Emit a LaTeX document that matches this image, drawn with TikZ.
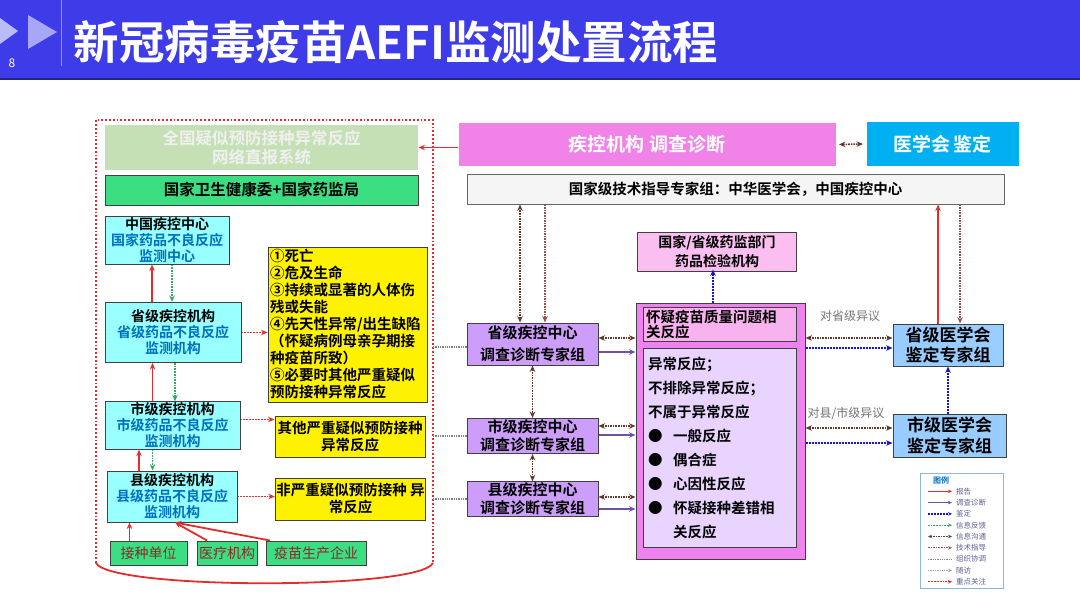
\documentclass[tikz,border=0pt]{standalone}
\usepackage{fontspec}
\setmainfont{Noto Sans CJK SC}[BoldFont={Noto Sans CJK SC Bold}]
\usetikzlibrary{calc,arrows.meta}

\definecolor{headblue}{RGB}{62,60,232}
\definecolor{headdark}{RGB}{38,38,130}
\definecolor{netgreen}{RGB}{197,224,180}
\definecolor{midgreen}{RGB}{60,222,130}
\definecolor{cyanfill}{RGB}{153,255,255}
\definecolor{cyantext}{RGB}{0,112,192}
\definecolor{diagpink}{RGB}{240,130,232}
\definecolor{medblue}{RGB}{0,176,240}
\definecolor{nmpapink}{RGB}{250,190,240}
\definecolor{purplefill}{RGB}{204,158,250}
\definecolor{bigpink}{RGB}{238,130,238}
\definecolor{innerpink}{RGB}{248,178,238}
\definecolor{lavender}{RGB}{232,212,255}
\definecolor{lightblue}{RGB}{153,204,255}
\definecolor{redline}{RGB}{225,45,45}
\definecolor{purpleline}{RGB}{110,80,165}
\definecolor{blueline}{RGB}{20,20,210}
\definecolor{greenline}{RGB}{50,170,100}
\definecolor{brownline}{RGB}{100,55,45}
\definecolor{guidebrown}{RGB}{150,80,80}
\definecolor{sitetext}{RGB}{140,40,40}
\definecolor{legtext}{RGB}{95,95,150}

\newcommand{\fsz}[2]{\fontsize{#1}{#2}\selectfont}

\begin{document}
\begin{tikzpicture}[>={Stealth[length=6.5pt,width=5.5pt]}, x=1pt, y=-1pt,
    box/.style={draw=black!75, line width=1pt, inner sep=1pt, align=center, font=\bfseries},
    cdcbox/.style={box, fill=cyanfill, font=\bfseries\fsz{14}{16}},
    ylwbox/.style={box, fill=yellow, font=\bfseries\fsz{14.5}{17}},
    sitebox/.style={box, fill=midgreen, font=\fsz{14}{16}, text=sitetext, minimum height=24},
    expbox/.style={box, fill=purplefill, font=\bfseries\fsz{15}{18}, minimum width=131},
    medbox/.style={box, fill=lightblue, font=\bfseries\fsz{17}{20.5}},
    report/.style={draw=redline, line width=1.8pt, ->},
    survey/.style={draw=purpleline, line width=1.8pt, ->},
    ident/.style={draw=blueline, line width=2pt, densely dotted, ->},
    feedback/.style={draw=greenline, line width=1.7pt, densely dotted, ->},
    commu/.style={draw=brownline, line width=1.6pt, densely dotted, <->},
    guide/.style={draw=guidebrown, line width=1.6pt, densely dotted, ->},
    orgline/.style={draw=gray, line width=1.3pt, densely dotted},
    visit/.style={draw=gray!70, line width=1.3pt, densely dotted, ->},
    focus/.style={draw=redline, line width=1.9pt, densely dotted, ->}]
    \useasboundingbox (0,0) rectangle (1080,597);

    % Header band
    \fill[headblue] (0,0) rectangle (1080,78);
    \fill[headdark] (0,78) rectangle (1080,80);
    \fill[headblue!35!white] (0,18) -- (18,31) -- (0,44) -- cycle;
    \fill[headblue!45!white] (28,15) -- (57,32) -- (28,49) -- cycle;
    \draw[headblue!55!white, line width=0.8pt] (61,0) -- (61,66);
    \node[text=white, font=\fsz{12}{12}] (page) at (12,63) {8};
    \node[anchor=west, text=white, font=\bfseries\fsz{45.5}{46}] (title) at (70,42) {新冠病毒疫苗AEFI监测处置流程};

    % Left frame (reporting system)
    \coordinate (frame) at (433,120);
    \draw[redline, line width=1.8pt, dotted] (96,563) -- (96,120) -- (frame) -- (433,563);
    \draw[redline, line width=1.8pt] (96,563) .. controls (110,590) and (420,590) .. (433,563);

    \node[box, draw=none, fill=netgreen, text=white!94!black, font=\bfseries\fsz{16.5}{18.5},
        minimum width=313, minimum height=45] (netsys) at (261.5,147.5) {全国疑似预防接种异常反应\\网络直报系统};
    \node[box, fill=midgreen, font=\bfseries\fsz{15.5}{17}, minimum width=313, minimum height=30] (nhc) at (261.5,190) {国家卫生健康委+国家药监局};

    \node[cdcbox, minimum width=124, minimum height=45] (cdc) at (167,240.5)
        {中国疾控中心\\{\color{cyantext}国家药品不良反应}\\{\color{cyantext}监测中心}};
    \node[cdcbox, minimum width=136, minimum height=60] (provcdc) at (173,332.5)
        {省级疾控机构\\{\color{cyantext}省级药品不良反应}\\{\color{cyantext}监测机构}};
    \node[cdcbox, minimum width=135, minimum height=45] (citycdc) at (172.5,425.5)
        {市级疾控机构\\{\color{cyantext}市级药品不良反应}\\{\color{cyantext}监测机构}};
    \node[cdcbox, minimum width=130, minimum height=51] (countycdc) at (172,496.5)
        {县级疾控机构\\{\color{cyantext}县级药品不良反应}\\{\color{cyantext}监测机构}};

    \node[sitebox, minimum width=77] (site) at (148.5,553) {接种单位};
    \node[sitebox, minimum width=60] (hosp) at (227,553) {医疗机构};
    \node[sitebox, minimum width=100] (maker) at (316,553) {疫苗生产企业};

    \node[ylwbox, align=left, text width=155, minimum height=155, inner sep=2pt] (ylw1) at (347.5,324.5)
        {①死亡\\②危及生命\\③持续或显著的人体伤\\残或失能\\④先天性异常/出生缺陷\\（怀疑病例母亲孕期接\\种疫苗所致）\\⑤必要时其他严重疑似\\预防接种异常反应};
    \node[ylwbox, minimum width=150, minimum height=41] (ylw2) at (350,436.5) {其他严重疑似预防接种\\异常反应};
    \node[ylwbox, minimum width=149, minimum height=42] (ylw3) at (350.5,499) {非严重疑似预防接种 异\\常反应};

    % Reporting up, feedback down
    \draw[report] ([xshift=-19pt]site.north) -- ([xshift=-19pt]site.north |- countycdc.south);
    \coordinate (countyin) at ([xshift=3pt]countycdc.south);
    \draw[report] ([xshift=-20pt]hosp.north) -- (countyin);
    \draw[report] ([xshift=-46pt]maker.north) -- (countyin);
    \draw[report] ([xshift=-33pt]countycdc.north) -- ([xshift=-33pt]countycdc.north |- citycdc.south);
    \draw[feedback] ([xshift=-20pt]citycdc.south) -- ([xshift=-20pt]citycdc.south |- countycdc.north);
    \draw[report] ([xshift=-20pt]citycdc.north) -- ([xshift=-20pt]citycdc.north |- provcdc.south);
    \draw[feedback] ([xshift=2pt]provcdc.south) -- ([xshift=2pt]provcdc.south |- citycdc.north);
    \draw[report] ([xshift=-15pt]cdc.south |- provcdc.north) -- ([xshift=-15pt]cdc.south);
    \draw[feedback] ([xshift=5pt]cdc.south) -- ([xshift=5pt]cdc.south |- provcdc.north);

    % Key attention
    \draw[focus] (provcdc.east) -- (provcdc.east -| ylw1.west);
    \draw[focus] ([yshift=6pt]citycdc.east) -- ([yshift=6pt]citycdc.east -| ylw2.west);
    \draw[focus] (countycdc.east) -- (countycdc.east -| ylw3.west);

    % Right part: investigation and diagnosis
    \node[box, draw=none, fill=diagpink, text=white, font=\bfseries\fsz{19}{21}, minimum width=377, minimum height=43] (diag) at (647,144.5) {疾控机构 调查诊断};
    \node[box, draw=none, fill=medblue, text=white, font=\bfseries\fsz{19}{21}, minimum width=152, minimum height=44] (medassoc) at (942.5,144) {医学会\,鉴定};
    \node[box, draw=black!60, fill=black!4, font=\bfseries\fsz{14.5}{16}, minimum width=537, minimum height=30] (expert) at (735.5,189) {国家级技术指导专家组：中华医学会，中国疾控中心};
    \node[box, fill=nmpapink, font=\bfseries\fsz{14}{19}, minimum width=159, minimum height=39] (nmpa) at (717,251.5) {国家/省级药监部门\\药品检验机构};

    \draw[report] (diag.west |- netsys.east) -- (netsys.east);
    \draw[commu] ([xshift=3pt]diag.east) -- ([xshift=-3pt]medassoc.west);

    \node[expbox, font=\bfseries\fsz{15}{21.5}, minimum height=42] (provexp) at (532.5,344) {省级疾控中心\\调查诊断专家组};
    \node[expbox, minimum height=35] (cityexp) at (532.5,436) {市级疾控中心\\调查诊断专家组};
    \node[expbox, minimum height=34] (countyexp) at (532.5,499) {县级疾控中心\\调查诊断专家组};

    \node[box, fill=bigpink, minimum width=169, minimum height=256] (bigbox) at (720.5,431) {};
    \node[box, fill=innerpink, align=left, text width=147, inner sep=3pt, font=\bfseries\fsz{14.5}{12.5},
        minimum height=33] (quality) at (719.5,324.5) {怀疑疫苗质量问题相\\关反应};
    \node[box, fill=lavender, align=left, text width=143, inner xsep=5pt, font=\bfseries\fsz{14.5}{24},
        minimum height=199] (abnormal) at (719.5,447.5)
        {异常反应；\\不排除异常反应；\\不属于异常反应\\
         \makebox[25pt][l]{●}一般反应\\\makebox[25pt][l]{●}偶合症\\\makebox[25pt][l]{●}心因性反应\\
         \makebox[25pt][l]{●}怀疑接种差错相\\\hspace*{25pt}关反应};

    \node[medbox, minimum width=110, minimum height=42] (provmed) at (948,345) {省级医学会\\鉴定专家组};
    \node[medbox, minimum width=113, minimum height=43] (citymed) at (949.5,435.5) {市级医学会\\鉴定专家组};

    \node[text=black!55, font=\fsz{12}{12}] (provobj) at (850,316) {对省级异议};
    \node[text=black!55, font=\fsz{12}{12}] (cityobj) at (846,413) {对县/市级异议};

    % Technical guidance and communication
    \coordinate (exl) at ([xshift=-12.5pt]provexp.north);
    \coordinate (exr) at ([xshift=12.5pt]provexp.north);
    \draw[commu] (exl) -- (exl |- expert.south);
    \draw[guide] (exr |- expert.south) -- (exr);
    \coordinate (mdl) at ([xshift=-10pt]provmed.north);
    \coordinate (mdr) at ([xshift=12pt]provmed.north);
    \draw[report] (mdl) -- (mdl |- expert.south);
    \draw[guide] (mdr |- expert.south) -- (mdr);
    \draw[ident] ([xshift=-4pt]nmpa.south |- bigbox.north) -- ([xshift=-4pt,yshift=2pt]nmpa.south);

    % Organisation lines from the reporting system
    \draw[orgline] ([yshift=-3pt]provexp.west) -- ([yshift=-3pt]provexp.west -| frame);
    \draw[orgline] (cityexp.west) -- (cityexp.west -| frame);
    \draw[orgline] (countyexp.west) -- (countyexp.west -| frame);

    \draw[commu] (provexp.south) -- (cityexp.north);
    \draw[commu] (cityexp.south) -- (countyexp.north);

    % Expert groups to diagnosis box
    \draw[survey] ([yshift=-8pt]provexp.east) -- ([yshift=-8pt]provexp.east -| bigbox.west);
    \draw[commu] ([yshift=6pt]provexp.east) -- ([yshift=6pt]provexp.east -| bigbox.west);
    \draw[survey] ([yshift=1pt]cityexp.east) -- ([yshift=1pt]cityexp.east -| bigbox.west);
    \draw[commu] ([yshift=10pt]cityexp.east) -- ([yshift=10pt]cityexp.east -| bigbox.west);
    \draw[survey] ([yshift=-10pt]countyexp.east) -- ([yshift=-10pt]countyexp.east -| bigbox.west);
    \draw[commu] ([yshift=2pt]countyexp.east) -- ([yshift=2pt]countyexp.east -| bigbox.west);

    % Objections to medical association
    \draw[ident] ([yshift=-3pt]provmed.west -| bigbox.east) -- ([yshift=-3pt]provmed.west);
    \draw[commu] ([yshift=7pt]provmed.west -| bigbox.east) -- ([yshift=7pt]provmed.west);
    \draw[ident] ([yshift=-7.5pt]citymed.west -| bigbox.east) -- ([yshift=-7.5pt]citymed.west);
    \draw[commu] ([yshift=7.5pt]citymed.west -| bigbox.east) -- ([yshift=7.5pt]citymed.west);
    \draw[ident] (citymed.north -| provmed.south) -- (provmed.south);

    % Legend
    \node[draw=lightblue!70!gray, line width=0.8pt, fill=white, minimum width=83, minimum height=115] (legend) at (961.5,530.5) {};
    \node[text=cyantext, font=\bfseries\fsz{8}{8}] (legtitle) at (941,480) {图例};
    \foreach \sty/\txt [count=\i] in {report/报告, survey/调查诊断, ident/鉴定, feedback/信息反馈,
        commu/信息沟通, guide/技术指导, orgline/组织协调, visit/随访, focus/重点关注} {
        \draw[\sty, line width=1.2pt, >={Stealth[length=4pt,width=3.5pt]}] (928,480+11.3*\i) -- (952,480+11.3*\i);
        \node[anchor=west, text=legtext, font=\fsz{7.5}{8}, inner sep=1pt] at (955,480+11.3*\i) {\txt};
    }
\end{tikzpicture}
\end{document}
